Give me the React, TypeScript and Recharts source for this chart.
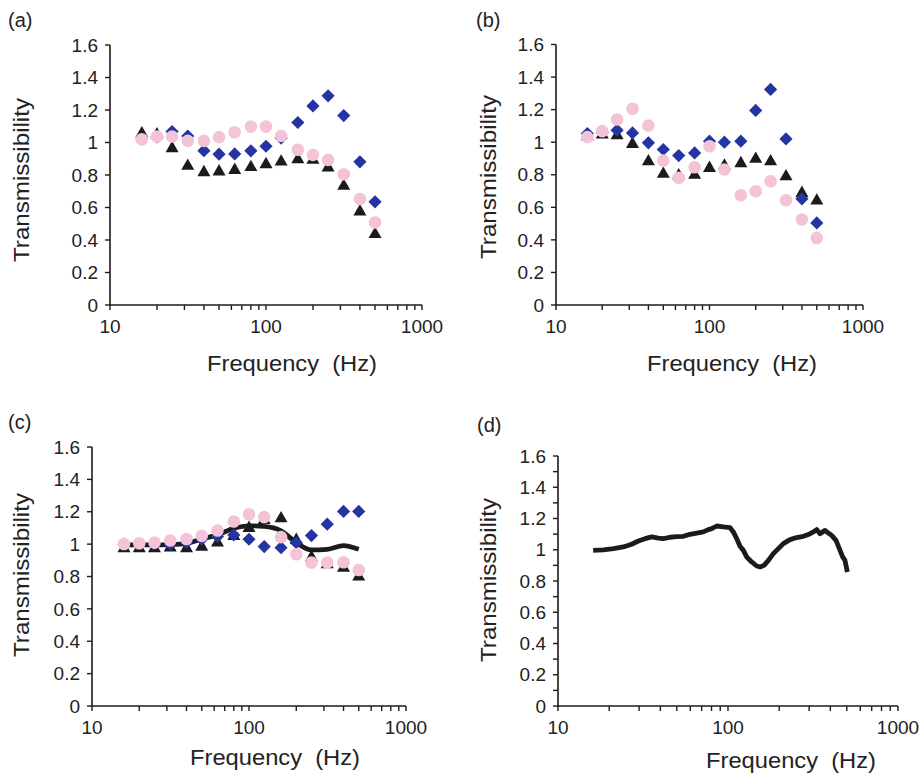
import React from "react";
import { ComposedChart, Scatter, Line, XAxis, YAxis } from "recharts";

// ---------- data ----------
const freqs = [16, 20, 25, 31.5, 40, 50, 63, 80, 100, 125, 160, 200, 250, 315, 400, 500];

const aBlue = [1.02, 1.035, 1.067, 1.04, 0.95, 0.928, 0.93, 0.949, 0.977, 1.027, 1.123, 1.225, 1.287, 1.166, 0.881, 0.635];
const aPink = [1.02, 1.037, 1.037, 1.01, 1.01, 1.033, 1.063, 1.098, 1.098, 1.041, 0.955, 0.924, 0.893, 0.805, 0.652, 0.508];
const aBlack = [1.067, 1.06, 0.975, 0.867, 0.828, 0.832, 0.842, 0.859, 0.877, 0.893, 0.908, 0.904, 0.857, 0.744, 0.586, 0.447];

const bBlue = [1.053, 1.06, 1.074, 1.057, 0.996, 0.955, 0.918, 0.934, 1.006, 1.0, 1.006, 1.195, 1.324, 1.02, 0.652, 0.504];
const bPink = [1.031, 1.068, 1.139, 1.205, 1.102, 0.887, 0.781, 0.846, 0.975, 0.832, 0.674, 0.699, 0.76, 0.643, 0.525, 0.412];
const bBlack = [1.047, 1.057, 1.053, 1.0, 0.893, 0.816, 0.807, 0.81, 0.852, 0.867, 0.881, 0.908, 0.893, 0.801, 0.699, 0.652];

const cBlue = [1.0, 1.0, 1.0, 1.0, 1.01, 1.03, 1.047, 1.057, 1.03, 0.985, 0.978, 1.009, 1.053, 1.123, 1.202, 1.202];
const cPink = [1.001, 1.005, 1.009, 1.022, 1.032, 1.051, 1.084, 1.14, 1.185, 1.167, 1.043, 0.937, 0.886, 0.886, 0.888, 0.84];
const cBlack = [0.985, 0.985, 0.985, 0.99, 0.985, 0.995, 1.02, 1.06, 1.11, 1.16, 1.17, 1.036, 0.93, 0.886, 0.865, 0.81];
const cLine = [0.995, 0.995, 0.995, 0.997, 1.005, 1.032, 1.057, 1.098, 1.113, 1.109, 1.082, 1.009, 0.964, 0.968, 0.991, 0.968];

const dFreq = [16.1, 18.5, 21.2, 24.2, 27.1, 29.7, 32.5, 35.6, 38.9, 41.7, 45.6, 49.9, 54.6, 59.8, 65.4, 71.6, 76.6, 80.2, 85.8, 93.9, 102.7, 107.5, 112.5, 117.7, 123.1, 128.8, 137.8, 147.5, 154.3, 162.9, 172.8, 184.8, 197.8, 211.6, 231.6, 253.5, 277.5, 296.9, 317.7, 332.4, 347.7, 372.1, 389.2, 407.3, 431.9, 451.8, 472.6, 487.7, 503.5];
const dValue = [0.996, 0.999, 1.007, 1.018, 1.035, 1.056, 1.071, 1.082, 1.075, 1.071, 1.08, 1.084, 1.086, 1.099, 1.107, 1.114, 1.129, 1.135, 1.152, 1.146, 1.142, 1.114, 1.071, 1.022, 0.996, 0.954, 0.922, 0.896, 0.89, 0.9, 0.932, 0.975, 1.007, 1.039, 1.065, 1.078, 1.086, 1.097, 1.114, 1.129, 1.103, 1.124, 1.107, 1.092, 1.06, 1.007, 0.954, 0.932, 0.858];

const xTicks = [10, 20, 30, 40, 50, 60, 70, 80, 90, 100, 200, 300, 400, 500, 600, 700, 800, 900, 1000];
const xLabels = [10, 100, 1000];
const yTicks = [0, 0.2, 0.4, 0.6, 0.8, 1, 1.2, 1.4, 1.6];
const yTicksMinor = [0, 0.1, 0.2, 0.3, 0.4, 0.5, 0.6, 0.7, 0.8, 0.9, 1, 1.1, 1.2, 1.3, 1.4, 1.5, 1.6];

const BLUE = "#2434a2";
const PINK = "#f4c3d8";
const BLACK = "#1b1b1b";
const INK = "#222";
const FONT = "'Liberation Sans', Arial, Helvetica, sans-serif";

const pts = (xs: number[], ys: number[]) => xs.map((x, i) => ({ x, y: ys[i] }));

// ---------- marker shapes ----------
const Diamond = (p: any) => {
  const { cx, cy } = p;
  const s = 6.6;
  return <path d={`M${cx},${cy - s}L${cx + s},${cy}L${cx},${cy + s}L${cx - s},${cy}Z`} fill={BLUE} />;
};
const Tri = (p: any) => {
  const { cx, cy } = p;
  const w = 6.5;
  const h = 5.7;
  return <path d={`M${cx},${cy - h}L${cx + w},${cy + h}L${cx - w},${cy + h}Z`} fill={BLACK} />;
};
const Dot = (p: any) => {
  const { cx, cy } = p;
  return <circle cx={cx} cy={cy} r={6.3} fill={PINK} />;
};

const fmtX = (v: number) => (xLabels.includes(v) ? String(v) : "");
const fmtY = (v: number) => String(Math.round(v * 10) / 10);
const fmtYMinor = (v: number) => (Math.round(v * 10) % 2 === 0 ? String(Math.round(v * 10) / 10) : "");

type PanelProps = {
  left: number;
  top: number;
  width: number;
  height: number;
  margin: { top: number; right: number; bottom: number; left: number };
  yWidth: number;
  minor?: boolean;
  children: React.ReactNode;
};

const tickStyle = { fill: INK, fontSize: 19, fontFamily: FONT };

function Panel({ left, top, width, height, margin, yWidth, minor, children }: PanelProps) {
  return (
    <div style={{ position: "absolute", left, top, width, height }}>
      <ComposedChart width={width} height={height} margin={margin}>
        <XAxis
          dataKey="x"
          type="number"
          scale="log"
          domain={[10, 1000]}
          ticks={xTicks}
          interval={0}
          tickFormatter={fmtX}
          tick={tickStyle}
          tickSize={5}
          tickMargin={10}
          height={40}
          axisLine={{ stroke: BLACK, strokeWidth: 1.6 }}
          tickLine={{ stroke: BLACK, strokeWidth: 1.4 }}
          allowDataOverflow
        />
        <YAxis
          dataKey="y"
          type="number"
          domain={[0, 1.6]}
          ticks={minor ? yTicksMinor : yTicks}
          interval={0}
          tickFormatter={minor ? fmtYMinor : fmtY}
          tick={tickStyle}
          tickSize={5}
          tickMargin={7}
          width={yWidth}
          axisLine={{ stroke: BLACK, strokeWidth: 1.6 }}
          tickLine={{ stroke: BLACK, strokeWidth: 1.4 }}
          allowDataOverflow
        />
        {children}
      </ComposedChart>
    </div>
  );
}

const YTitle = ({ x, y }: { x: number; y: number }) => (
  <text
    x={x}
    y={y}
    transform={`rotate(-90 ${x} ${y})`}
    textAnchor="middle"
    fontSize={22}
    fontFamily={FONT}
    fill={INK}
    textLength={164}
    lengthAdjust="spacingAndGlyphs"
  >
    Transmissibility
  </text>
);
const XTitle = ({ x, y }: { x: number; y: number }) => (
  <text
    x={x}
    y={y}
    textAnchor="middle"
    fontSize={22}
    fontFamily={FONT}
    fill={INK}
    textLength={170}
    lengthAdjust="spacingAndGlyphs"
    style={{ whiteSpace: "pre" }}
  >
    Frequency  (Hz)
  </text>
);
const PLabel = ({ x, y, t }: { x: number; y: number; t: string }) => (
  <text x={x} y={y} fontSize={20} fontFamily={FONT} fill={INK}>
    {t}
  </text>
);

export default function App() {
  return (
    <div style={{ position: "absolute", left: 0, top: 0, width: 920, height: 775, background: "#fff" }}>
      {/* (a) */}
      <Panel left={0} top={0} width={460} height={387} margin={{ top: 45, right: 38, bottom: 42, left: 0 }} yWidth={110}>
        <Scatter data={pts(freqs, aBlack)} shape={Tri} isAnimationActive={false} />
        <Scatter data={pts(freqs, aBlue)} shape={Diamond} isAnimationActive={false} />
        <Scatter data={pts(freqs, aPink)} shape={Dot} isAnimationActive={false} />
      </Panel>
      {/* (b) */}
      <Panel left={460} top={0} width={460} height={387} margin={{ top: 44.5, right: 57, bottom: 42, left: 0 }} yWidth={96}>
        <Scatter data={pts(freqs, bBlack)} shape={Tri} isAnimationActive={false} />
        <Scatter data={pts(freqs, bBlue)} shape={Diamond} isAnimationActive={false} />
        <Scatter data={pts(freqs, bPink)} shape={Dot} isAnimationActive={false} />
      </Panel>
      {/* (c) */}
      <Panel left={0} top={387} width={460} height={388} margin={{ top: 60, right: 54, bottom: 29, left: 0 }} yWidth={92}>
        <Line data={pts(freqs, cLine)} dataKey="y" type="monotone" stroke={BLACK} strokeWidth={4.8} dot={false} isAnimationActive={false} />
        <Scatter data={pts(freqs, cBlack)} shape={Tri} isAnimationActive={false} />
        <Scatter data={pts(freqs, cBlue)} shape={Diamond} isAnimationActive={false} />
        <Scatter data={pts(freqs, cPink)} shape={Dot} isAnimationActive={false} />
      </Panel>
      {/* (d) */}
      <Panel left={460} top={387} width={460} height={388} margin={{ top: 69, right: 22, bottom: 29, left: 0 }} yWidth={98} minor>
        <Line data={pts(dFreq, dValue)} dataKey="y" type="linear" stroke={BLACK} strokeWidth={4.8} strokeLinejoin="round" dot={false} isAnimationActive={false} />
      </Panel>

      <svg width={920} height={775} style={{ position: "absolute", left: 0, top: 0, pointerEvents: "none" }}>
        <PLabel x={8} y={27} t="(a)" />
        <PLabel x={476} y={27} t="(b)" />
        <PLabel x={8} y={429} t="(c)" />
        <PLabel x={477} y={432} t="(d)" />
        <YTitle x={29} y={180} />
        <YTitle x={496} y={177} />
        <YTitle x={29} y={575} />
        <YTitle x={496} y={580} />
        <XTitle x={292} y={371} />
        <XTitle x={732} y={371} />
        <XTitle x={275} y={765} />
        <XTitle x={791} y={768} />
      </svg>
    </div>
  );
}
